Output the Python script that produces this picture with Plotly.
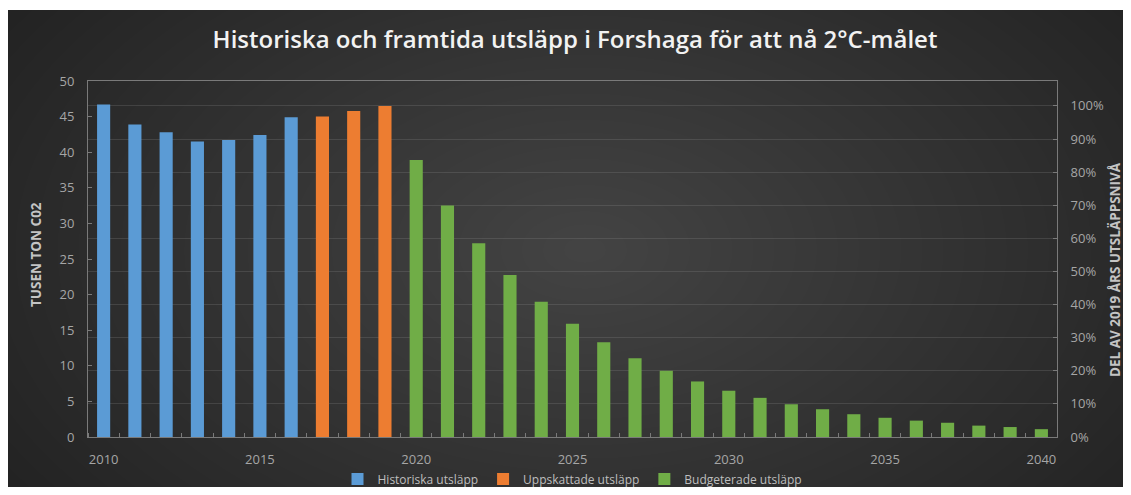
import plotly.graph_objects as go

# ---- data ----
hist_years = [2010, 2011, 2012, 2013, 2014, 2015, 2016]
hist_vals = [46.7, 43.9, 42.8, 41.5, 41.7, 42.4, 44.9]

est_years = [2017, 2018, 2019]
est_vals = [45.0, 45.8, 46.5]

budget_years = list(range(2020, 2041))
budget_vals = [38.9, 32.5, 27.2, 22.75, 19.0, 15.9, 13.3, 11.05, 9.3, 7.8, 6.5,
               5.5, 4.6, 3.9, 3.2, 2.7, 2.3, 2.0, 1.6, 1.4, 1.1]

x_tick_vals = [2010, 2015, 2020, 2025, 2030, 2035, 2040]
y_left_ticks = list(range(0, 55, 5))
ref_2019 = 46.5  # 100 % level on the right axis

title_text = "Historiska och framtida utsläpp i Forshaga för att nå 2°C-målet"
left_title = "TUSEN TON C02"
right_title = "DEL AV 2019 ÅRS UTSLÄPPSNIVÅ"
names = ["Historiska utsläpp", "Uppskattade utsläpp", "Budgeterade utsläpp"]
colors = ["#5B9BD5", "#ED7D31", "#70AD47"]

# ---- layout geometry (screen pixels; page body adds an 8px offset) ----
OX, OY = 8, 8
SW, SH = 1131, 495
W, H = SW - 2 * OX, SH - 2 * OY
L, R, T, B = 88, 1057, 81, 437          # plot area in screen pixels
pw, ph = R - L, B - T


def px2x(px):
    return (px - L) / pw


def px2y(py):
    return (B - py) / ph


fig = go.Figure()
for yrs, vals, nm, col in zip([hist_years, est_years, budget_years],
                              [hist_vals, est_vals, budget_vals], names, colors):
    fig.add_trace(go.Bar(x=yrs, y=vals, name=nm, marker_color=col,
                         marker_line_width=0, width=0.42))

shapes = []
# radial gradient approximation
cx, cy = 585, 250
n = 36
for i in range(n):
    f = 1 - i / n
    rx = 760 * f
    ry = 470 * f
    shapes.append(dict(type="circle", xref="paper", yref="paper",
                       x0=px2x(cx - rx), x1=px2x(cx + rx),
                       y0=px2y(cy + ry), y1=px2y(cy - ry),
                       fillcolor="rgba(255,255,255,0.0095)", line_width=0,
                       layer="below"))
# thin white strip at the very top
shapes.append(dict(type="rect", xref="paper", yref="paper",
                   x0=px2x(0), x1=px2x(SW + 2), y0=px2y(10), y1=px2y(0),
                   fillcolor="white", line_width=0, layer="below"))

tick_font = dict(family="Open Sans", size=13, color="#a6a6a6")
title_font = dict(family="Open Sans", size=13.5, color="#c4c4c4", weight="bold")
axis_line = "#7a7a7a"

annotations = [
    dict(text=left_title, xref="paper", yref="paper", x=px2x(36), y=px2y(255),
         xanchor="center", yanchor="middle", textangle=-90, showarrow=False,
         font=title_font),
    dict(text=right_title, xref="paper", yref="paper", x=px2x(1115),
         y=px2y(270), xanchor="center", yanchor="middle", textangle=-90,
         showarrow=False, font=title_font),
]

fig.update_layout(
    width=W, height=H,
    margin=dict(l=L - OX, r=(SW - OX) - R, t=T - OY, b=(SH - OY) - B, pad=0,
                autoexpand=False),
    paper_bgcolor="#1f1f1f",
    plot_bgcolor="rgba(0,0,0,0)",
    barmode="overlay",
    shapes=shapes,
    annotations=annotations,
    showlegend=True,
    title=dict(text=title_text, x=(575 - OX) / W, xanchor="center",
               y=1 - (40 - OY) / H, yanchor="middle",
               font=dict(family="Open Sans", size=24, color="#f2f2f2",
                         weight=600)),
    legend=dict(orientation="h", x=0.5, xanchor="center", y=px2y(479),
                yanchor="middle", font=dict(family="Open Sans", size=12,
                                            color="#bfbfbf"),
                bgcolor="rgba(0,0,0,0)", itemwidth=30, traceorder="normal"),
    xaxis=dict(range=[2009.5, 2040.5], tickvals=x_tick_vals, ticks="",
               tickfont=tick_font, showgrid=False, zeroline=False,
               showline=True, linecolor=axis_line, linewidth=1, mirror=True,
               ticklabelstandoff=10, automargin=False,
               minor=dict(tick0=2009.5, dtick=1, ticks="inside", ticklen=4,
                          tickcolor=axis_line, showgrid=False)),
    yaxis=dict(range=[0, 50], tickvals=y_left_ticks, showgrid=False,
               zeroline=False, showline=True, linecolor=axis_line,
               linewidth=1, tickfont=tick_font, ticks="inside", ticklen=4,
               tickcolor=axis_line, ticklabelstandoff=10, automargin=False),
    yaxis2=dict(range=[0, 50 / ref_2019], overlaying="y", side="right",
                tickformat=".0%", dtick=0.1, tick0=0, showgrid=True,
                gridcolor="rgba(150,150,150,0.22)", gridwidth=1,
                zeroline=False, showline=True, linecolor=axis_line,
                ticks="inside", ticklen=4, tickcolor=axis_line,
                tickfont=tick_font, ticklabelstandoff=10, automargin=False),
)

# invisible trace to bind right axis
fig.add_trace(go.Scatter(x=[2010], y=[0], yaxis="y2", mode="markers",
                         marker=dict(opacity=0), showlegend=False,
                         hoverinfo="skip"))

fig.write_html("out.html")
